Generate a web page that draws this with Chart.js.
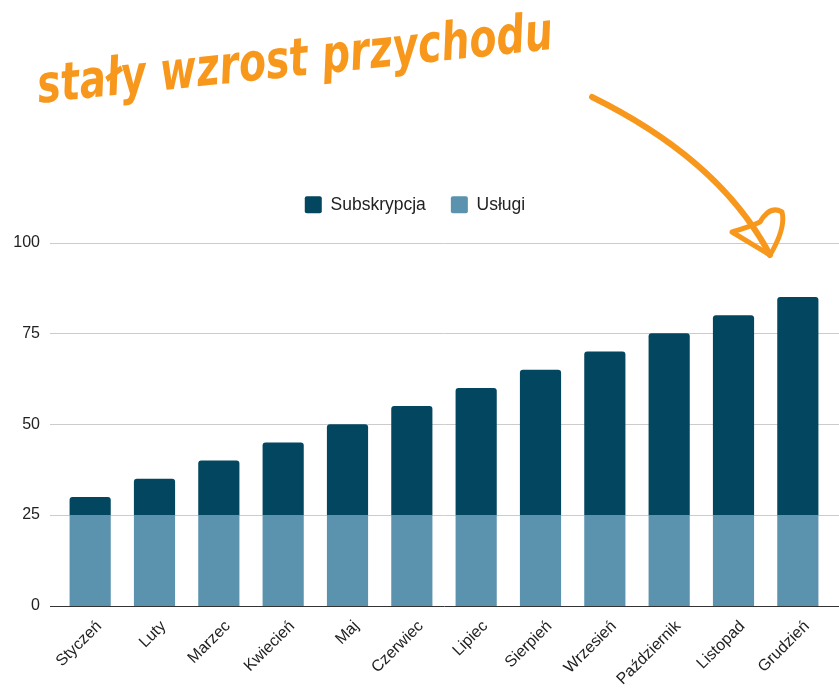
<!DOCTYPE html>
<html>
<head>
<meta charset="utf-8">
<script src="https://cdn.jsdelivr.net/npm/chart.js@4"></script>
<style>
  body { margin: 0; background: #fff; }
  #wrap { position: relative; width: 839px; height: 692px; }
  #note {
    position: absolute; left: 40px; top: 65px;
    font-family: "DejaVu Sans Condensed", "DejaVu Sans", sans-serif;
    font-weight: bold; font-style: italic; font-size: 44px; line-height: 50px;
    color: #f7981d; white-space: nowrap;
    transform: rotate(-6deg) scaleY(1.2); transform-origin: left bottom;
  }
  #arrow { position: absolute; left: 0; top: 0; pointer-events: none; }
</style>
</head>
<body>
<div id="wrap">
  <canvas id="chart" width="839" height="692"></canvas>
  <div id="note">stały wzrost przychodu</div>
  <svg id="arrow" width="839" height="692">
    <path d="M592 97 Q720 160 770 255" fill="none" stroke="#f7981d" stroke-width="6" stroke-linecap="round"/>
    <path d="M770 255 L732 232 Q752 226 760 222 Q770 205 782 212 Q786 228 770 255" fill="none" stroke="#f7981d" stroke-width="5" stroke-linecap="round" stroke-linejoin="round"/>
  </svg>
</div>
<script>
// data
const months = ['Styczeń', 'Luty', 'Marzec', 'Kwiecień', 'Maj', 'Czerwiec', 'Lipiec', 'Sierpień', 'Wrzesień', 'Październik', 'Listopad', 'Grudzień'];
const subskrypcja = [5, 10, 15, 20, 25, 30, 35, 40, 45, 50, 55, 60];
const uslugi = [25, 25, 25, 25, 25, 25, 25, 25, 25, 25, 25, 25];
const yTicks = [0, 25, 50, 75, 100];

const FONT = 'Liberation Sans, Arial, sans-serif';

// gridlines run past the plot area, edge to edge
const wideGrid = {
  id: 'wideGrid',
  beforeDatasetsDraw(chart) {
    const ctx = chart.ctx, y = chart.scales.y;
    ctx.save();
    yTicks.forEach(v => {
      const py = Math.round(y.getPixelForValue(v)) + 0.5;
      ctx.strokeStyle = v === 0 ? '#333333' : '#cccccc';
      ctx.lineWidth = 1;
      ctx.beginPath();
      ctx.moveTo(50, py);
      ctx.lineTo(chart.width, py);
      ctx.stroke();
    });
    ctx.restore();
  }
};

// extra gap below the legend
const legendGap = {
  id: 'legendGap',
  afterInit(chart) {
    const fit = chart.legend.fit;
    chart.legend.fit = function () { fit.call(this); this.height += 19; };
  }
};

new Chart(document.getElementById('chart'), {
  type: 'bar',
  data: {
    labels: months,
    datasets: [
      { label: 'Usługi', data: uslugi, backgroundColor: '#5b92ae', stack: 's' },
      { label: 'Subskrypcja', data: subskrypcja, backgroundColor: '#02465f', stack: 's',
        borderRadius: { topLeft: 3, topRight: 3 }, borderSkipped: false }
    ]
  },
  options: {
    responsive: false,
    animation: false,
    layout: { padding: { top: 171, right: 9, left: 0, bottom: 0 } },
    datasets: { bar: { categoryPercentage: 0.64, barPercentage: 1 } },
    plugins: {
      legend: {
        position: 'top',
        labels: {
          boxWidth: 17, boxHeight: 17, padding: 25, color: '#222',
          font: { family: FONT, size: 17.5 },
          generateLabels(chart) {
            return chart.data.datasets.map((d, i) => ({
              text: d.label, fillStyle: d.backgroundColor, strokeStyle: d.backgroundColor,
              lineWidth: 0, datasetIndex: i, borderRadius: 2, fontColor: '#222'
            })).reverse();
          }
        }
      },
      tooltip: { enabled: false }
    },
    scales: {
      x: {
        stacked: true,
        grid: { display: false },
        border: { display: false },
        ticks: { maxRotation: 45, minRotation: 45, color: '#222', padding: 3, labelOffset: 9,
          font: { family: FONT, size: 16 } }
      },
      y: {
        stacked: true,
        min: 0, max: 100,
        grid: { display: false, drawTicks: false },
        border: { display: false },
        afterFit(scale) { scale.width = 58; },
        afterBuildTicks(scale) { scale.ticks = yTicks.map(v => ({ value: v })); },
        ticks: { color: '#222', padding: 18,
          font: { family: FONT, size: 16 } }
      }
    }
  },
  plugins: [wideGrid, legendGap]
});
</script>
</body>
</html>
